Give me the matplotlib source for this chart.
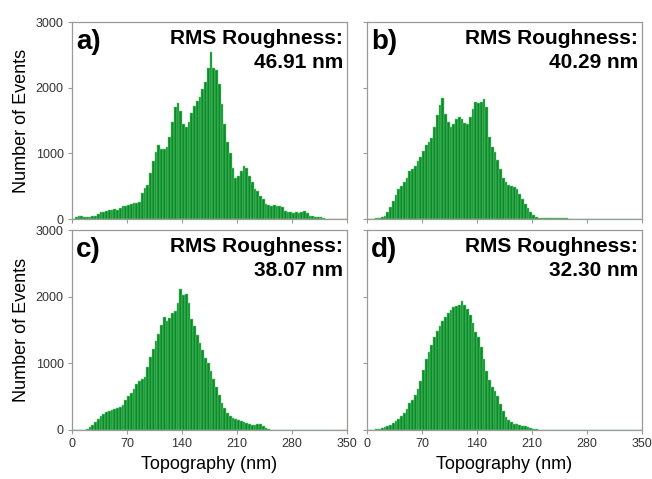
import numpy as np
import matplotlib
matplotlib.use("Agg")
import matplotlib.pyplot as plt

plt.rcParams['font.family'] = ['Liberation Sans', 'DejaVu Sans']

bin_width = 3.5
bin_lefts = np.arange(0, 350, bin_width)

counts_a = [0, 25, 40, 45, 35, 35, 30, 40, 50, 70,
            110, 100, 120, 130, 140, 145, 140, 170, 200, 205,
            215, 230, 245, 250, 265, 400, 470, 520, 700, 880,
            1020, 1130, 1060, 1070, 1100, 1250, 1480, 1700, 1760, 1640,
            1450, 1400, 1470, 1620, 1720, 1800, 1860, 1980, 2090, 2300,
            2550, 2300, 2270, 2050, 1750, 1450, 1180, 1000, 780, 620,
            650, 730, 800, 770, 650, 570, 450, 420, 350, 300,
            230, 210, 200, 210, 200, 205, 180, 120, 100, 100,
            95, 100, 90, 100, 115, 90, 45, 40, 35, 30,
            25, 15, 0, 0, 0, 0, 0, 0, 0, 0]

counts_b = [0, 0, 5, 10, 20, 30, 50, 100, 180, 270,
            360, 450, 500, 560, 620, 730, 760, 800, 880, 950,
            1040, 1130, 1180, 1240, 1400, 1580, 1740, 1840, 1600, 1480,
            1400, 1450, 1530, 1550, 1530, 1460, 1440, 1560, 1680, 1780,
            1760, 1780, 1820, 1700, 1250, 1100, 1020, 900, 760, 620,
            560, 520, 500, 480, 450, 380, 300, 230, 160, 100,
            60, 35, 20, 12, 10, 8, 10, 12, 10, 8,
            10, 12, 8, 6, 0, 0, 0, 0, 0, 0,
            0, 0, 0, 0, 0, 0, 0, 0, 0, 0,
            0, 0, 0, 0, 0, 0, 0, 0, 0, 0]

counts_c = [0, 0, 0, 0, 0, 15, 40, 80, 120, 160,
            210, 240, 270, 290, 305, 320, 335, 350, 380, 450,
            510, 560, 620, 690, 730, 760, 790, 950, 1100, 1220,
            1330, 1440, 1580, 1690, 1640, 1680, 1750, 1780, 1900, 2120,
            2020, 2040, 1900, 1660, 1560, 1420, 1300, 1200, 1080, 1000,
            880, 760, 640, 520, 410, 330, 260, 210, 185, 165,
            150, 135, 120, 105, 90, 80, 80, 85, 90, 55,
            30, 10, 0, 0, 0, 0, 0, 0, 0, 0,
            0, 0, 0, 0, 0, 0, 0, 0, 0, 0,
            0, 0, 0, 0, 0, 0, 0, 0, 0, 0]

counts_d = [0, 0, 5, 12, 20, 28, 40, 55, 75, 100,
            130, 170, 210, 260, 310, 400, 450, 520, 620, 740,
            900, 1060, 1170, 1280, 1400, 1480, 1560, 1630, 1690, 1750,
            1800, 1840, 1860, 1880, 1930, 1870, 1810, 1720, 1600, 1470,
            1390, 1240, 1060, 880, 750, 650, 590, 510, 390, 280,
            200, 145, 115, 95, 85, 75, 65, 55, 40, 28,
            18, 12, 5, 0, 0, 0, 0, 0, 0, 0,
            0, 0, 0, 0, 0, 0, 0, 0, 0, 0,
            0, 0, 0, 0, 0, 0, 0, 0, 0, 0,
            0, 0, 0, 0, 0, 0, 0, 0, 0, 0]

panel_labels = ['a)', 'b)', 'c)', 'd)']
rms_values = ['46.91 nm', '40.29 nm', '38.07 nm', '32.30 nm']
x_ticks = [0, 70, 140, 210, 280, 350]
y_ticks = [0, 1000, 2000, 3000]

fig = plt.figure(figsize=(6.52, 4.79), dpi=100)
W, H = 652, 479

def ax_rect(x0, y0, x1, y1):
    return [x0 / W, 1 - y1 / H, (x1 - x0) / W, (y1 - y0) / H]

rects = [ax_rect(72, 22, 347, 219), ax_rect(367, 22, 642, 219),
         ax_rect(72, 230, 347, 430), ax_rect(367, 230, 642, 430)]
all_counts = [counts_a, counts_b, counts_c, counts_d]

spine_col = '#9a9a9a'
for k in range(4):
    ax = fig.add_axes(rects[k])
    ax.bar(bin_lefts, all_counts[k], width=bin_width, align='edge',
           color='#0b8c2a', edgecolor='#6fd07e', linewidth=0.35)
    ax.set_xlim(0, 350)
    ax.set_ylim(0, 3000)
    ax.set_xticks(x_ticks)
    ax.set_yticks(y_ticks)
    for s in ax.spines.values():
        s.set_color(spine_col)
        s.set_linewidth(0.9)
    ax.tick_params(direction='out', length=3, width=0.8, color=spine_col,
                   labelsize=9, labelcolor='#333333', pad=3)
    if k < 2:
        ax.tick_params(labelbottom=False)
    else:
        ax.set_xlabel('Topography (nm)', fontsize=13, labelpad=4)
    if k % 2 == 1:
        ax.tick_params(labelleft=False)
    else:
        ax.set_ylabel('Number of Events', fontsize=13, labelpad=4)
    ax.text(0.015, 0.965, panel_labels[k], transform=ax.transAxes,
            ha='left', va='top', fontsize=20, fontweight='bold')
    ax.text(0.985, 0.965, 'RMS Roughness:\n' + rms_values[k],
            transform=ax.transAxes, ha='right', va='top', fontsize=15,
            fontweight='bold', linespacing=1.35)

fig.savefig('out.png', dpi=100)
